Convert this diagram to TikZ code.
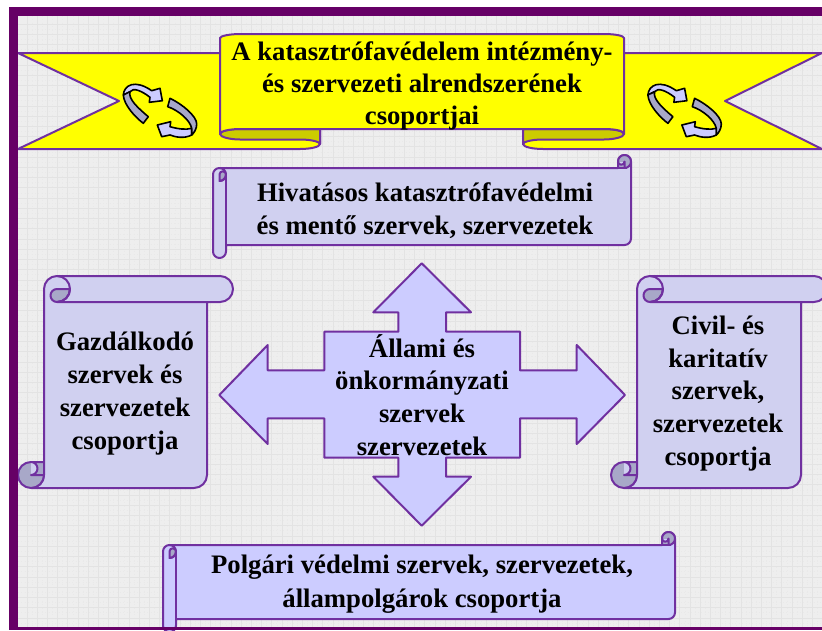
\documentclass[tikz,border=0pt]{standalone}
\usepackage{fontspec}
\setmainfont{Liberation Serif}
\definecolor{framec}{HTML}{660066}
\definecolor{edgec}{HTML}{7030A0}
\definecolor{bgc}{HTML}{EEEEEE}
\definecolor{gridc}{HTML}{E3E3E3}
\definecolor{dotc}{HTML}{E9E9E9}
\definecolor{scrollc}{HTML}{D0D0F0}
\definecolor{bluec}{HTML}{CCCCFF}
\definecolor{darkc}{HTML}{A8A8C8}
\definecolor{ylw}{HTML}{FFFF00}
\definecolor{dylw}{HTML}{CCCC00}
\tikzset{
  pline/.style={draw=edgec,line width=2pt,line join=round},
  ponly/.style={edgec,line width=2pt,line join=round},
  iconline/.style={draw=black,line width=1.6pt,line join=round},
  lbl/.style={font=\fontsize{26.7}{32.8}\selectfont\bfseries,align=center,inner sep=0pt,text=black},
}
% vertical scroll
\newcommand{\vscroll}[6]{%
  \pgfmathsetmacro{\cha}{#5}\pgfmathsetmacro{\chb}{#5/2}\pgfmathsetmacro{\chc}{#5/4}%
  \pgfmathsetmacro{\xa}{#1+\chb}\pgfmathsetmacro{\xb}{#1+\cha}\pgfmathsetmacro{\xc}{#1+\cha+\chb}%
  \pgfmathsetmacro{\xd}{#3-\cha}\pgfmathsetmacro{\xe}{#3-\chb}%
  \pgfmathsetmacro{\ya}{#2+\chb}\pgfmathsetmacro{\yb}{#2+\cha}\pgfmathsetmacro{\yc}{#4-\chb}\pgfmathsetmacro{\yd}{#4-\cha}%
  \draw[pline,fill=#6] (\xa,#4) arc[start angle=90,delta angle=-90,radius=\chb pt]
    -- (\xb,\ya) arc[start angle=180,delta angle=90,radius=\chb pt]
    -- (\xe,#2) arc[start angle=270,delta angle=180,radius=\chb pt]
    -- (\xd,\yb) -- (\xd,\yc) arc[start angle=0,delta angle=90,radius=\chb pt] -- cycle;
  % top curl
  \draw[pline,fill=darkc] (\xc+\chb,\ya) -- (\xc,\ya) arc[start angle=270,delta angle=-180,radius=\chc pt]
    arc[start angle=90,delta angle=-90,radius=\chb pt] -- cycle;
  \draw[ponly] (\xc,#2) arc[start angle=270,delta angle=180,radius=\chb pt] -- (\xd,\yb);
  % bottom curl
  \draw[pline,fill=darkc] (\xa,\yc) circle[radius=\chb pt];
  \fill[#6] (\xa,\yd) rectangle (\xb,\yc);
  \draw[pline,fill=darkc] (\xb,\yd) -- (\xa,\yd) arc[start angle=270,delta angle=180,radius=\chc pt] -- (\xb,\yc);
  \draw[ponly] (\xb,\ya) -- (\xb,\yc);
}
% horizontal scroll
\newcommand{\hscroll}[6]{%
  \pgfmathsetmacro{\cha}{#5}\pgfmathsetmacro{\chb}{#5/2}\pgfmathsetmacro{\chc}{#5/4}%
  \pgfmathsetmacro{\xa}{#1+\chb}\pgfmathsetmacro{\xb}{#1+\cha}%
  \pgfmathsetmacro{\xd}{#3-\cha}\pgfmathsetmacro{\xe}{#3-\chb}%
  \pgfmathsetmacro{\ya}{#2+\chb}\pgfmathsetmacro{\yb}{#2+\cha}\pgfmathsetmacro{\yc}{#2+\cha+\chb}%
  \pgfmathsetmacro{\yd}{#4-\cha}\pgfmathsetmacro{\ye}{#4-\chb}%
  \draw[pline,fill=#6] (#1,\yc) arc[start angle=180,delta angle=90,radius=\chb pt]
    -- (\xd,\yb) -- (\xd,\ya) arc[start angle=180,delta angle=180,radius=\chb pt]
    -- (#3,\yd-\chb) arc[start angle=0,delta angle=90,radius=\chb pt]
    -- (\xb,\yd) -- (\xb,\ye) arc[start angle=0,delta angle=180,radius=\chb pt] -- cycle;
  % left curl
  \draw[pline,fill=darkc] (\xa,\yc+\chb) -- (\xa,\yc) arc[start angle=180,delta angle=180,radius=\chc pt]
    arc[start angle=0,delta angle=90,radius=\chb pt] -- cycle;
  \draw[ponly] (\xa,\yb) arc[start angle=270,delta angle=180,radius=\chb pt];
  \draw[ponly] (\xb,\yc) -- (\xb,\ye);
  % right curl
  \draw[pline,fill=darkc] (\xe,\ya) circle[radius=\chb pt];
  \fill[#6] (\xd,\ya) rectangle (\xe,\yb);
  \draw[pline,fill=darkc] (\xd,\yb) -- (\xd,\ya) arc[start angle=180,delta angle=-180,radius=\chc pt] -- (\xe,\yb);
  \draw[ponly] (\xd,\yb) -- (\xe+2,\yb);
}
% circular arrows icon
\newcommand{\cyc}[1]{%
  \begin{scope}[shift={(#1,0)}]
    \draw[iconline,fill=bluec] (123.3,95) .. controls (124,85) and (135,79) .. (151.7,90.7)
      -- (160,88.3) -- (162.3,100.7) -- (149.3,102.3) -- (150,97.3)
      .. controls (142,91) and (133,87) .. (130,91.7) -- cycle;
    \draw[iconline,fill=darkc] (123.3,95) .. controls (124,105) and (135,117) .. (143.3,123.3)
      -- (148.3,116.7) .. controls (138,108) and (128,99) .. (130,91.7) -- cycle;
    \draw[iconline,fill=bluec] (157.3,125) -- (170.7,121.7) -- (170,126.7)
      .. controls (178,129) and (186,130) .. (191.7,128.3) -- (191.7,135)
      .. controls (184,139) and (175,137) .. (170,135) -- (161.7,136.7) -- cycle;
    \draw[iconline,fill=darkc] (170,98.3) .. controls (182,104) and (196.7,116) .. (196.7,124)
      .. controls (196.7,129) and (194,133) .. (191.7,135) -- (191.7,128.3)
      .. controls (190,120) and (178,110) .. (167.7,106.7) -- cycle;
  \end{scope}
}
\begin{document}
\begin{tikzpicture}[x=1pt,y=1pt,yscale=-1]
\useasboundingbox (0,0) rectangle (822,630);
\clip (0,0) rectangle (822,630);
% paper
\fill[bgc] (9,7) rectangle (822,630);
\foreach \i in {0,...,78} {
  \draw[gridc,line width=0.8pt] ({27+10.2*\i},16) -- ({27+10.2*\i},628);
  \draw[dotc,line width=0.8pt,dash pattern=on 1pt off 2.4pt] ({32.1+10.2*\i},16) -- ({32.1+10.2*\i},628);
}
\foreach \i in {0,...,60} {
  \draw[gridc,line width=0.8pt] (18,{24+10.24*\i}) -- (822,{24+10.24*\i});
  \draw[dotc,line width=0.8pt,dash pattern=on 1pt off 2.4pt] (18,{29.1+10.24*\i}) -- (822,{29.1+10.24*\i});
}
% ribbon
\draw[pline,fill=ylw] (18,53) -- (320,53) -- (320,144) .. controls (320,147) and (310,149) .. (300,149)
  -- (18,149) -- (119,101) -- cycle;
\draw[pline,fill=ylw] (822,53) -- (523,53) -- (523,144) .. controls (523,147) and (533,149) .. (543,149)
  -- (822,149) -- (725,101) -- cycle;
\draw[pline,fill=dylw] (220,134) .. controls (220,137) and (230,139.5) .. (240,139.5) -- (300,139.5)
  .. controls (312,139.5) and (320,142) .. (320,144) -- (320,129) -- (240,129) .. controls (230,129) and (220,131) .. (220,134) -- cycle;
\draw[pline,fill=dylw] (624,134) .. controls (624,137) and (614,139.5) .. (604,139.5) -- (543,139.5)
  .. controls (531,139.5) and (523,142) .. (523,144) -- (523,129) -- (604,129) .. controls (614,129) and (624,131) .. (624,134) -- cycle;
\draw[pline,fill=ylw] (220,38) .. controls (220,36) and (230,34) .. (240,34) -- (604,34)
  .. controls (616,34) and (624,36) .. (624,38) -- (624,134) .. controls (624,131) and (616,129) .. (604,129)
  -- (240,129) .. controls (230,129) and (220,131) .. (220,134) -- cycle;
\cyc{0}
\cyc{524.6}
% scrolls
\hscroll{213}{155}{631}{258}{13}{scrollc}
\vscroll{18}{276}{233}{488}{26}{scrollc}
\vscroll{611}{276}{827}{488}{26}{scrollc}
\hscroll{163}{532}{675}{632}{13}{bluec}
% cross arrow
\draw[pline,fill=bluec] (421.7,263.3) -- (471,312.3) -- (446,312.3) -- (446,331.7) -- (520,331.7)
  -- (520,370.3) -- (576.7,370.3) -- (576.7,345) -- (625,395) -- (576.7,444) -- (576.7,418.3)
  -- (520,418.3) -- (520,457.7) -- (446,457.7) -- (446,476.7) -- (471,476.7) -- (421.7,525.7)
  -- (373.3,476.7) -- (398.3,476.7) -- (398.3,457.7) -- (324.3,457.7) -- (324.3,418.3)
  -- (267.7,418.3) -- (267.7,444) -- (219.3,395) -- (267.7,345) -- (267.7,370.3) -- (324.3,370.3)
  -- (324.3,331.7) -- (398.3,331.7) -- (398.3,312.3) -- (373.3,312.3) -- cycle;
% frame
\fill[framec] (9,7) rectangle (822,16);
\fill[framec] (9,7) rectangle (18,630);
\fill[framec] (9,627) rectangle (822,630);
% texts
\node[lbl,font=\fontsize{26.7}{32}\selectfont\bfseries] (title) at (422,86) {A katasztrófavédelem intézmény-\\és szervezeti alrendszerének\\csoportjai};
\node[lbl] (hivatasos) at (425,211) {Hivatásos katasztrófavédelmi\\és mentő szervek, szervezetek};
\node[lbl] (gazdalkodo) at (125,393.5) {Gazdálkodó\\szervek és\\szervezetek\\csoportja};
\node[lbl] (civil) at (718,393.5) {Civil- és\\karitatív\\szervek,\\szervezetek\\csoportja};
\node[lbl] (allami) at (422,395) {Állami és\\önkormányzati\\szervek\\szervezetek};
\node[lbl,font=\fontsize{26.7}{33.5}\selectfont\bfseries] (polgari) at (422,584) {Polgári védelmi szervek, szervezetek,\\állampolgárok csoportja};
\end{tikzpicture}
\end{document}
